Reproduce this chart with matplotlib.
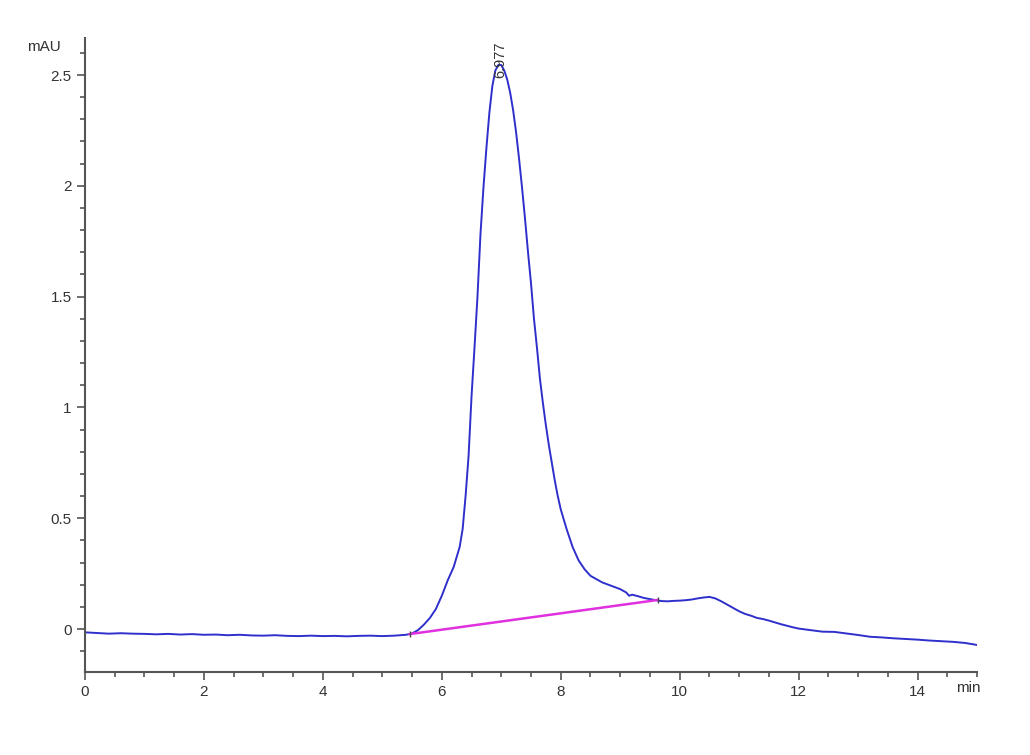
import matplotlib
matplotlib.use("Agg")
import matplotlib.pyplot as plt
from matplotlib.ticker import MultipleLocator
from matplotlib.transforms import ScaledTranslation

# ---- data ----
time_min = [0.00, 0.2, 0.4, 0.6, 0.8, 1.0, 1.2, 1.4, 1.6, 1.8, 2.0, 2.2, 2.4, 2.6, 2.8,
            3.0, 3.2, 3.4, 3.6, 3.8, 4.0, 4.2, 4.4, 4.6, 4.8, 5.0, 5.2, 5.4, 5.5, 5.6,
            5.7, 5.8, 5.9, 6.0, 6.1, 6.2, 6.3, 6.35, 6.4, 6.45, 6.5, 6.55, 6.6, 6.65,
            6.7, 6.75, 6.8, 6.85, 6.9, 6.95, 7.0, 7.05, 7.1, 7.15, 7.2, 7.25, 7.3, 7.35,
            7.4, 7.45, 7.5, 7.55, 7.6, 7.65, 7.7, 7.75, 7.8, 7.85, 7.9, 7.95, 8.0, 8.1,
            8.2, 8.3, 8.4, 8.5, 8.6, 8.7, 8.8, 8.9, 9.0, 9.1, 9.15, 9.2, 9.3, 9.4, 9.5,
            9.6, 9.7, 9.8, 9.9, 10.0, 10.1, 10.2, 10.3, 10.4, 10.5, 10.6, 10.7, 10.8,
            10.9, 11.0, 11.1, 11.2, 11.3, 11.4, 11.5, 11.6, 11.7, 11.8, 11.9, 12.0,
            12.2, 12.4, 12.6, 12.8, 13.0, 13.2, 13.4, 13.6, 13.8, 14.0, 14.2, 14.4,
            14.6, 14.8, 15.0]
signal_mAU = [-0.015, -0.018, -0.021, -0.019, -0.021, -0.022, -0.024, -0.022, -0.025, -0.023,
              -0.026, -0.025, -0.028, -0.026, -0.029, -0.030, -0.028, -0.031, -0.032, -0.030,
              -0.032, -0.031, -0.033, -0.031, -0.030, -0.032, -0.030, -0.026, -0.020, -0.005,
              0.02, 0.05, 0.09, 0.15, 0.22, 0.28, 0.37, 0.45, 0.60, 0.78, 1.05, 1.27, 1.50,
              1.78, 1.99, 2.17, 2.33, 2.45, 2.52, 2.545, 2.545, 2.52, 2.48, 2.42, 2.34, 2.24,
              2.12, 1.99, 1.85, 1.70, 1.56, 1.40, 1.27, 1.13, 1.02, 0.92, 0.83, 0.75, 0.67,
              0.60, 0.54, 0.45, 0.37, 0.31, 0.27, 0.24, 0.225, 0.21, 0.20, 0.19, 0.18, 0.165,
              0.15, 0.155, 0.148, 0.14, 0.135, 0.13, 0.126, 0.125, 0.127, 0.128, 0.13, 0.133,
              0.138, 0.142, 0.145, 0.138, 0.125, 0.11, 0.095, 0.08, 0.068, 0.06, 0.05, 0.045,
              0.038, 0.030, 0.022, 0.015, 0.008, 0.002, -0.005, -0.012, -0.013, -0.020,
              -0.027, -0.035, -0.038, -0.042, -0.045, -0.048, -0.052, -0.055, -0.058,
              -0.063, -0.072]
baseline_t = [5.46, 9.63]
baseline_y = [-0.023, 0.131]
peak_rt = 6.977
peak_label = "6.977"
x_ticks = [0, 2, 4, 6, 8, 10, 12, 14]
y_ticks = [0, 0.5, 1, 1.5, 2, 2.5]
y_ticklabels = ["0", "0.5", "1", "1.5", "2", "2.5"]

plt.rcParams['font.family'] = ['Liberation Sans', 'DejaVu Sans']

fig = plt.figure(figsize=(10.30, 7.55), dpi=100)
ax = fig.add_axes([85/1030, 1-672/755, (977-85)/1030, (672-38)/755])

ax.plot(time_min, signal_mAU, color='#2f2fcc', lw=1.4)
ax.plot(baseline_t, baseline_y, color='#e030e0', lw=1.8)
ax.plot(baseline_t, baseline_y, linestyle='none', marker='|', color='#444444',
        markersize=5, mew=1)

ax.set_xlim(0, 15)
ax.set_ylim(-0.194, 2.667)

for s in ['top', 'right']:
    ax.spines[s].set_visible(False)
for s in ['left', 'bottom']:
    ax.spines[s].set_color('#555555')
    ax.spines[s].set_linewidth(1.5)

ax.set_xticks(x_ticks)
ax.set_xticklabels([str(v) for v in x_ticks])
ax.set_yticks(y_ticks)
ax.set_yticklabels(y_ticklabels)
ax.xaxis.set_minor_locator(MultipleLocator(0.5))
ax.yaxis.set_minor_locator(MultipleLocator(0.1))
ax.tick_params(axis='both', which='major', direction='out', length=6, width=1.2,
               colors='#555555', labelcolor='#333333', labelsize=11)
ax.tick_params(axis='both', which='minor', direction='out', length=3.5, width=1.2,
               colors='#555555')
ax.tick_params(axis='x', which='major', pad=3)

t_min = ax.text(14.85, -0.194, "min", ha='center', va='top', fontsize=11, color='#333333')
t_min.set_transform(ax.transData + ScaledTranslation(0, -9/100, fig.dpi_scale_trans))
ax.text(-0.4, 2.626, "mAU", ha='right', va='center', fontsize=11, color='#333333')
ax.text(peak_rt, 2.485, peak_label, rotation=90, ha='center', va='bottom',
        fontsize=10.5, color='#333333')

fig.savefig("out.png", dpi=100, facecolor='white')
